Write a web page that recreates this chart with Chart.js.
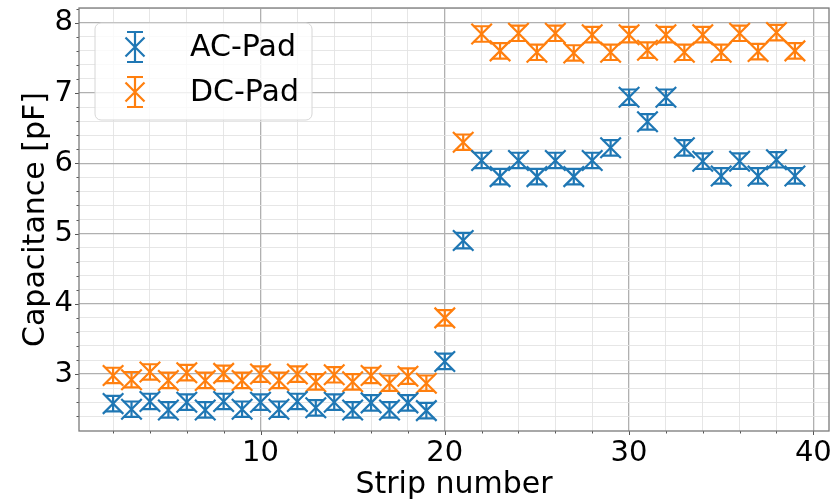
<!DOCTYPE html>
<html>
<head>
<meta charset="utf-8">
<script src="https://cdn.jsdelivr.net/npm/chart.js@4/dist/chart.umd.min.js"></script>
<style>
  html, body { margin: 0; padding: 0; background: #ffffff; }
  #wrap { width: 839px; height: 500px; }
</style>
</head>
<body>
<div id="wrap"><canvas id="c" width="839" height="500"></canvas></div>
<script>
// Strip positions on the sensor
const strips = [2, 3, 4, 5, 6, 7, 8, 9, 10, 11, 12, 13, 14, 15, 16, 17, 18, 19, 20,
                21, 22, 23, 24, 25, 26, 27, 28, 29, 30, 31, 32, 33, 34, 35, 36, 37, 38, 39];

// Measured capacitance per strip [pF]
const acPad = [2.58, 2.50, 2.61, 2.49, 2.60, 2.49, 2.61, 2.50, 2.60, 2.50, 2.61, 2.52, 2.60, 2.49, 2.59, 2.49, 2.59, 2.48, 3.18,
               4.90, 6.04, 5.81, 6.04, 5.81, 6.04, 5.81, 6.04, 6.22, 6.94, 6.59, 6.94, 6.22, 6.03, 5.82, 6.03, 5.82, 6.05, 5.82];
const dcPad = [2.98, 2.92, 3.03, 2.91, 3.02, 2.91, 3.01, 2.91, 3.00, 2.91, 3.00, 2.89, 2.99, 2.89, 2.98, 2.87, 2.97, 2.87, 3.80,
               6.30, 7.84, 7.60, 7.85, 7.58, 7.85, 7.57, 7.83, 7.58, 7.83, 7.61, 7.83, 7.58, 7.83, 7.58, 7.85, 7.59, 7.86, 7.60];

// Measurement uncertainty [pF]
const acErr = [0.11, 0.11, 0.11, 0.11, 0.11, 0.11, 0.11, 0.11, 0.11, 0.11, 0.11, 0.11, 0.11, 0.11, 0.11, 0.11, 0.11, 0.11, 0.11,
               0.11, 0.11, 0.11, 0.11, 0.11, 0.11, 0.11, 0.11, 0.11, 0.11, 0.11, 0.11, 0.11, 0.11, 0.11, 0.11, 0.11, 0.11, 0.11];
const dcErr = [0.11, 0.11, 0.11, 0.11, 0.11, 0.11, 0.11, 0.11, 0.11, 0.11, 0.11, 0.11, 0.11, 0.11, 0.11, 0.11, 0.11, 0.11, 0.11,
               0.11, 0.11, 0.11, 0.11, 0.11, 0.11, 0.11, 0.11, 0.11, 0.11, 0.11, 0.11, 0.11, 0.11, 0.11, 0.11, 0.11, 0.11, 0.11];

// Tick positions (major ones get labels)
const xTicks = [2, 4, 6, 8, 10, 12, 14, 16, 18, 20, 22, 24, 26, 28, 30, 32, 34, 36, 38, 40];
const xMajor = [10, 20, 30, 40];
const yTicks = [2.4, 2.6, 2.8, 3.0, 3.2, 3.4, 3.6, 3.8, 4.0, 4.2, 4.4, 4.6, 4.8, 5.0, 5.2, 5.4, 5.6, 5.8,
                6.0, 6.2, 6.4, 6.6, 6.8, 7.0, 7.2, 7.4, 7.6, 7.8, 8.0, 8.2];
const yMajor = [3, 4, 5, 6, 7, 8];

const BLUE = '#1f77b4';
const ORANGE = '#ff7f0e';
const FONT = 'DejaVu Sans';

const isMajor = (list, v) => list.some(m => Math.abs(m - v) < 1e-6);

// Vertical error bars with caps, placed through the y scale
const errorBars = {
  id: 'errorBars',
  beforeDatasetsDraw(chart) {
    const { ctx } = chart;
    const yScale = chart.scales.y;
    chart.data.datasets.forEach((ds, di) => {
      const meta = chart.getDatasetMeta(di);
      ctx.save();
      ctx.strokeStyle = ds.borderColor;
      ctx.lineWidth = 2.2;
      meta.data.forEach((pt, i) => {
        const v = ds.data[i].y;
        const e = ds.errors[i];
        const yTop = yScale.getPixelForValue(v + e);
        const yBot = yScale.getPixelForValue(v - e);
        const cap = 8;
        ctx.beginPath();
        ctx.moveTo(pt.x, yTop); ctx.lineTo(pt.x, yBot);
        ctx.moveTo(pt.x - cap, yTop); ctx.lineTo(pt.x + cap, yTop);
        ctx.moveTo(pt.x - cap, yBot); ctx.lineTo(pt.x + cap, yBot);
        ctx.stroke();
      });
      ctx.restore();
    });
  }
};

// Outward tick marks and the closed frame around the plot
const frameTicks = {
  id: 'frameTicks',
  afterDraw(chart) {
    const { ctx, chartArea: a } = chart;
    const xs = chart.scales.x, ys = chart.scales.y;
    ctx.save();
    ctx.strokeStyle = '#555555';
    ctx.lineWidth = 1;
    ctx.beginPath();
    xs.ticks.forEach(t => {
      const px = Math.round(xs.getPixelForValue(t.value)) + 0.5;
      const len = isMajor(xMajor, t.value) ? 4 : 2.5;
      ctx.moveTo(px, a.bottom); ctx.lineTo(px, a.bottom + len);
    });
    ys.ticks.forEach(t => {
      const py = Math.round(ys.getPixelForValue(t.value)) + 0.5;
      const len = isMajor(yMajor, t.value) ? 4 : 2.5;
      ctx.moveTo(a.left, py); ctx.lineTo(a.left - len, py);
    });
    ctx.stroke();
    ctx.strokeStyle = '#7a7a7a';
    ctx.lineWidth = 1.3;
    ctx.strokeRect(a.left, a.top, a.right - a.left, a.bottom - a.top);
    ctx.restore();
  }
};

// Legend box with error-bar symbols
const boxLegend = {
  id: 'boxLegend',
  afterDatasetsDraw(chart) {
    const { ctx } = chart;
    const bx = 95, by = 23, bw = 217, bh = 97, r = 6;
    ctx.save();
    ctx.beginPath();
    ctx.moveTo(bx + r, by);
    ctx.arcTo(bx + bw, by, bx + bw, by + bh, r);
    ctx.arcTo(bx + bw, by + bh, bx, by + bh, r);
    ctx.arcTo(bx, by + bh, bx, by, r);
    ctx.arcTo(bx, by, bx + bw, by, r);
    ctx.closePath();
    ctx.fillStyle = 'rgba(255,255,255,0.8)';
    ctx.fill();
    ctx.strokeStyle = '#d6d6d6';
    ctx.lineWidth = 1;
    ctx.stroke();

    const rows = [47, 92];
    chart.data.datasets.forEach((ds, i) => {
      const cx = 135, cy = rows[i];
      ctx.strokeStyle = ds.borderColor;
      ctx.lineWidth = 2.2;
      ctx.beginPath();
      ctx.moveTo(cx, cy - 15); ctx.lineTo(cx, cy + 15);
      ctx.moveTo(cx - 8, cy - 15); ctx.lineTo(cx + 8, cy - 15);
      ctx.moveTo(cx - 8, cy + 15); ctx.lineTo(cx + 8, cy + 15);
      const d = 9.5;
      ctx.moveTo(cx - d, cy - d); ctx.lineTo(cx + d, cy + d);
      ctx.moveTo(cx - d, cy + d); ctx.lineTo(cx + d, cy - d);
      ctx.stroke();
      ctx.fillStyle = '#000000';
      ctx.font = '30px "' + FONT + '"';
      ctx.textAlign = 'left';
      ctx.textBaseline = 'middle';
      ctx.fillText(ds.label, 190, cy + 1);
    });
    ctx.restore();
  }
};

const toPoints = (ys) => strips.map((s, i) => ({ x: s, y: ys[i] }));

const markerStyle = {
  pointStyle: 'crossRot',
  pointRadius: 14.5,
  pointHoverRadius: 14.5,
  pointBorderWidth: 2.2,
  showLine: false
};

new Chart(document.getElementById('c'), {
  type: 'scatter',
  data: {
    datasets: [
      Object.assign({
        label: 'AC-Pad',
        data: toPoints(acPad),
        errors: acErr,
        borderColor: BLUE,
        backgroundColor: BLUE
      }, markerStyle),
      Object.assign({
        label: 'DC-Pad',
        data: toPoints(dcPad),
        errors: dcErr,
        borderColor: ORANGE,
        backgroundColor: ORANGE
      }, markerStyle)
    ]
  },
  options: {
    responsive: false,
    animation: false,
    layout: { autoPadding: false, padding: { left: 0, right: 10, top: 8, bottom: 0 } },
    plugins: {
      legend: { display: false },
      tooltip: { enabled: false }
    },
    scales: {
      x: {
        type: 'linear',
        min: 0.15,
        max: 40.85,
        bounds: 'data',
        afterBuildTicks(scale) { scale.ticks = xTicks.map(v => ({ value: v })); },
        afterFit(scale) { scale.height = 69; scale.paddingLeft = 0; scale.paddingRight = 0; },
        ticks: {
          autoSkip: false,
          maxRotation: 0,
          padding: 5,
          color: '#000000',
          font: { family: FONT, size: 29 },
          callback: (v) => isMajor(xMajor, v) ? String(Math.round(v)) : ''
        },
        grid: {
          drawTicks: false,
          color: (c) => isMajor(xMajor, c.tick.value) ? '#b0b0b0' : '#e3e3e3',
          lineWidth: (c) => isMajor(xMajor, c.tick.value) ? 1.3 : 0.9
        },
        border: { display: false },
        title: {
          display: true,
          text: 'Strip number',
          color: '#000000',
          font: { family: FONT, size: 30 },
          padding: { top: 0, bottom: -3 }
        }
      },
      y: {
        type: 'linear',
        min: 2.19,
        max: 8.21,
        bounds: 'data',
        afterBuildTicks(scale) { scale.ticks = yTicks.map(v => ({ value: v })); },
        afterFit(scale) { scale.width = 79; scale.paddingTop = 0; scale.paddingBottom = 0; },
        ticks: {
          autoSkip: false,
          padding: 6,
          color: '#000000',
          font: { family: FONT, size: 29 },
          callback: (v) => isMajor(yMajor, v) ? String(Math.round(v)) : ''
        },
        grid: {
          drawTicks: false,
          color: (c) => isMajor(yMajor, c.tick.value) ? '#b0b0b0' : '#e3e3e3',
          lineWidth: (c) => isMajor(yMajor, c.tick.value) ? 1.3 : 0.9
        },
        border: { display: false },
        title: {
          display: true,
          text: 'Capacitance [pF]',
          color: '#000000',
          font: { family: FONT, size: 30 },
          padding: { top: 18, bottom: 0 }
        }
      }
    }
  },
  plugins: [errorBars, frameTicks, boxLegend]
});
</script>
</body>
</html>
